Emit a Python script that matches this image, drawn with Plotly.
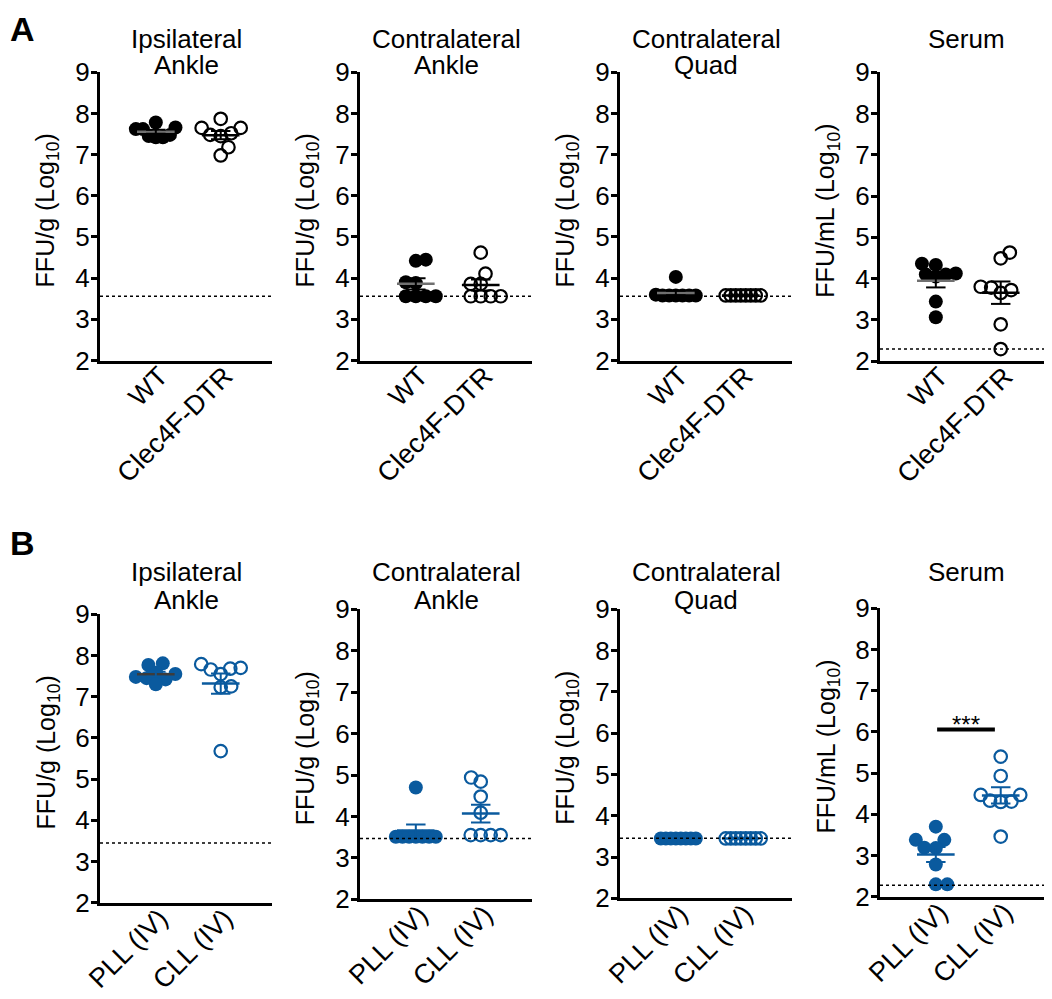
import numpy as np
import plotly.graph_objects as go

# ---------------- data ----------------
groups_A = ["WT", "Clec4F-DTR"]
groups_B = ["PLL (IV)", "CLL (IV)"]

title_lines = [["Ipsilateral", "Ankle"], ["Contralateral", "Ankle"],
               ["Contralateral", "Quad"], ["Serum"]]
ylabels = ["FFU/g (Log<sub>10</sub>)", "FFU/g (Log<sub>10</sub>)",
           "FFU/g (Log<sub>10</sub>)", "FFU/mL (Log<sub>10</sub>)"]
y_ticks = [2, 3, 4, 5, 6, 7, 8, 9]

A_ipsi_WT = [7.42, 7.45, 7.48, 7.62, 7.66, 7.62, 7.78, 7.42]
A_ipsi_DTR = [7.87, 7.65, 7.65, 7.52, 7.48, 7.45, 7.18, 6.98]
A_ca_WT = [4.45, 4.42, 3.90, 3.88, 3.56, 3.56, 3.56, 3.56]
A_ca_DTR = [4.62, 4.11, 3.86, 3.86, 3.56, 3.56, 3.56, 3.56]
A_cq_WT = [4.03, 3.60, 3.58, 3.58, 3.58, 3.58, 3.58, 3.58]
A_cq_DTR = [3.58, 3.58, 3.58, 3.58, 3.58, 3.58, 3.58, 3.58]
A_serum_WT = [4.33, 4.36, 4.10, 4.12, 4.10, 4.05, 3.44, 3.06]
A_serum_DTR = [4.63, 4.49, 3.80, 3.78, 3.65, 3.72, 2.89, 2.29]

B_ipsi_PLL = [7.81, 7.77, 7.58, 7.55, 7.48, 7.45, 7.42, 7.30]
B_ipsi_CLL = [7.79, 7.70, 7.68, 7.66, 7.55, 7.25, 7.23, 5.68]
B_ca_PLL = [4.70, 3.51, 3.51, 3.51, 3.51, 3.51, 3.51, 3.51]
B_ca_CLL = [4.94, 4.84, 4.48, 4.09, 3.55, 3.55, 3.55, 3.55]
B_cq_PLL = [3.45, 3.45, 3.45, 3.45, 3.45, 3.45, 3.45, 3.45]
B_cq_CLL = [3.45, 3.45, 3.45, 3.45, 3.45, 3.45, 3.45, 3.45]
B_serum_PLL = [3.70, 3.38, 3.38, 3.18, 3.19, 2.78, 2.30, 2.30]
B_serum_CLL = [5.40, 4.93, 4.47, 4.47, 4.33, 4.31, 4.30, 3.46]

lod_A = [3.56, 3.56, 3.56, 2.29]
lod_B = [3.45, 3.47, 3.455, 2.28]

sig_label = "***"
sig_y = 6.06

# ---------------- layout / style ----------------
OFF = 8  # default page margin of the html body
W, H = 1052 - OFF, 999 - 2 * OFF
FONT = "Liberation Sans, Arial, sans-serif"
BLACK = "#000000"
BLUE = "#0a5a9e"
XR = [0.14, 2.79]
PX_PER_X = 65.0
PX_PER_Y = 41.2
panel_x0 = [100, 360, 620, 880]
panel_w = 172
rowA_top = [72.3, 72.3, 72.3, 72.3]
rowA_bot = [360.5, 360.5, 360.5, 361.0]
rowB_top = [614.3, 609.3, 609.3, 608.3]
rowB_bot = [902.7, 899.3, 898.3, 896.7]


def px(xpix):
    return (xpix - OFF) / W


def py(ypix):
    return 1 - (ypix - OFF) / H


rows = [
    dict(groups=groups_A, color=BLACK, data=[(A_ipsi_WT, A_ipsi_DTR), (A_ca_WT, A_ca_DTR),
                                             (A_cq_WT, A_cq_DTR), (A_serum_WT, A_serum_DTR)],
         lod=lod_A, top=rowA_top, bot=rowA_bot, letter="A", letter_y=29,
         t1=39, t2=65, filled_mean=["#707070"] * 4),
    dict(groups=groups_B, color=BLUE, data=[(B_ipsi_PLL, B_ipsi_CLL), (B_ca_PLL, B_ca_CLL),
                                            (B_cq_PLL, B_cq_CLL), (B_serum_PLL, B_serum_CLL)],
         lod=lod_B, top=rowB_top, bot=rowB_bot, letter="B", letter_y=543,
         t1=572, t2=600, filled_mean=["#3c3c3c", BLUE, BLUE, BLUE]),
]


def swarm(vals, d=11.5, cap=20.0):
    n = len(vals)
    order = sorted(range(n), key=lambda i: vals[i])
    placed = []
    off = [0.0] * n
    for i in order:
        y = vals[i] * PX_PER_Y
        chosen = None
        k = 0
        while chosen is None:
            npos = sum(1 for p in placed if p[0] > 0)
            nneg = sum(1 for p in placed if p[0] < 0)
            if k == 0:
                cands = [0.0]
            elif npos > nneg:
                cands = [-k * 0.5, k * 0.5]
            else:
                cands = [k * 0.5, -k * 0.5]
            for x in cands:
                if all((x - qx) ** 2 + (y - qy) ** 2 >= d * d for qx, qy in placed):
                    chosen = x
                    break
            k += 1
        off[i] = chosen
        placed.append((chosen, y))
    m = max(abs(o) for o in off)
    if m > cap:
        off = [o * cap / m for o in off]
    return [o / PX_PER_X for o in off]


fig = go.Figure()
layout = dict(width=W, height=H, margin=dict(l=0, r=0, t=0, b=0, autoexpand=False),
              paper_bgcolor="white", plot_bgcolor="white", showlegend=False,
              font=dict(family=FONT, color=BLACK, size=25))
shapes = []
annotations = []

k = 0
for r, row in enumerate(rows):
    for p in range(4):
        k += 1
        xa = "x" if k == 1 else f"x{k}"
        ya = "y" if k == 1 else f"y{k}"
        x0 = panel_x0[p]
        x1 = min(x0 + panel_w, 1052)
        top, bot = row["top"][p], row["bot"][p]
        layout["xaxis" if k == 1 else f"xaxis{k}"] = dict(
            domain=[px(x0), min(px(x1), 1.0)], anchor=ya, range=XR, tickvals=[1, 2],
            ticktext=row["groups"], tickangle=-45, showline=True, linewidth=3,
            linecolor=BLACK, ticks="", showgrid=False, zeroline=False, automargin=False,
            ticklabelstandoff=-14, ticklabelshift=4,
            tickfont=dict(size=27, family=FONT, color=BLACK), fixedrange=True)
        layout["yaxis" if k == 1 else f"yaxis{k}"] = dict(
            domain=[py(bot), py(top)], anchor=xa, range=[2, 9],
            tickvals=y_ticks, ticks="outside", ticklen=6, tickwidth=3,
            tickcolor=BLACK, showline=True, linewidth=3, linecolor=BLACK,
            showgrid=False, zeroline=False, automargin=False, ticklabelstandoff=-4,
            tickfont=dict(size=26, family=FONT, color=BLACK), fixedrange=True)

        # LOD dotted line
        shapes.append(dict(type="line", xref=f"{xa} domain", yref=ya, x0=0, x1=1,
                           y0=row["lod"][p], y1=row["lod"][p],
                           line=dict(color=BLACK, width=1.5, dash="dot")))

        for g, vals in enumerate(row["data"][p]):
            xc = g + 1
            offs = swarm(vals)
            xs = [xc + o for o in offs]
            if g == 0:
                marker = dict(symbol="circle", size=14, color=row["color"], line=dict(width=0))
            else:
                marker = dict(symbol="circle-open", size=12.5, color=row["color"],
                              line=dict(width=2.2, color=row["color"]))
            fig.add_trace(go.Scatter(x=xs, y=vals, mode="markers", marker=marker,
                                     xaxis=xa, yaxis=ya, hoverinfo="skip"))
        for g, vals in enumerate(row["data"][p]):
            xc = g + 1
            arr = np.array(vals, dtype=float)
            mean = float(arr.mean())
            sem = float(arr.std(ddof=1) / np.sqrt(len(arr)))
            mcol = row["filled_mean"][p] if g == 0 else row["color"]
            fig.add_trace(go.Scatter(x=[xc - 0.29, xc + 0.29], y=[mean, mean], mode="lines",
                                     line=dict(color=mcol, width=2.5), xaxis=xa, yaxis=ya,
                                     hoverinfo="skip"))
            lo, hi = mean - sem, mean + sem
            ex = [xc, xc, None, xc - 0.15, xc + 0.15, None, xc - 0.15, xc + 0.15]
            ey = [lo, hi, None, lo, lo, None, hi, hi]
            fig.add_trace(go.Scatter(x=ex, y=ey, mode="lines",
                                     line=dict(color=row["color"], width=2), xaxis=xa,
                                     yaxis=ya, hoverinfo="skip"))

        # panel titles
        cx = px((x0 + x0 + panel_w) / 2)
        lines = title_lines[p]
        ys = [row["t1"], row["t2"]]
        for li, txt in enumerate(lines):
            annotations.append(dict(text=txt, x=cx, y=py(ys[li]), xref="paper", yref="paper",
                                    xanchor="center", yanchor="middle", showarrow=False,
                                    font=dict(size=26, family=FONT, color=BLACK)))
        # y-axis title
        annotations.append(dict(text=ylabels[p], x=px(x0 - 53), y=py((top + bot) / 2 - 6),
                                xref="paper", yref="paper", xanchor="center", yanchor="middle",
                                textangle=-90, showarrow=False,
                                font=dict(size=25, family=FONT, color=BLACK)))

        if r == 1 and p == 3:
            shapes.append(dict(type="line", xref=xa, yref=ya, x0=1.02, x1=1.91,
                               y0=sig_y, y1=sig_y, line=dict(color=BLACK, width=4)))
            annotations.append(dict(text=sig_label, x=(1.02 + 1.91) / 2, y=sig_y, xref=xa,
                                    yref=ya, xanchor="center", yanchor="bottom", yshift=-11,
                                    showarrow=False,
                                    font=dict(size=24, family=FONT, color=BLACK)))

    annotations.append(dict(text=f"<b>{row['letter']}</b>", x=px(8), y=py(row["letter_y"]),
                            xref="paper", yref="paper", xanchor="left", yanchor="middle",
                            showarrow=False, font=dict(size=34, family=FONT, color=BLACK)))

layout["shapes"] = shapes
layout["annotations"] = annotations
fig.update_layout(**layout)
fig.write_html("out.html")
